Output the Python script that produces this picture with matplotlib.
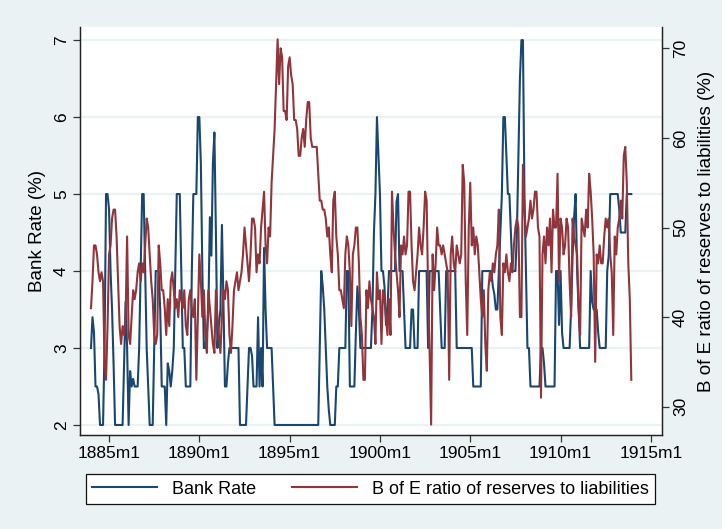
import numpy as np
import matplotlib
matplotlib.use("Agg")
import matplotlib.pyplot as plt

plt.rcParams['font.family'] = ['Liberation Sans', 'DejaVu Sans']

# monthly observations, 1884m1 .. 1913m12 (one row per year)
bank_rate = [
    3.0, 3.4, 3.2, 2.5, 2.5, 2.4, 2.0, 2.0, 2.0, 3.0, 5.0, 5.0,   # 1884
    4.8, 4.0, 3.5, 2.8, 2.0, 2.0, 2.0, 2.0, 2.0, 2.0, 2.8, 3.6,   # 1885
    3.0, 2.0, 2.7, 2.5, 2.6, 2.5, 2.5, 2.5, 3.0, 4.0, 5.0, 5.0,   # 1886
    4.0, 3.0, 2.5, 2.0, 2.0, 2.0, 3.0, 4.0, 4.0, 4.0, 3.5, 2.5,   # 1887
    2.5, 2.5, 2.0, 2.8, 2.7, 2.5, 2.7, 3.0, 4.0, 5.0, 5.0, 5.0,   # 1888
    4.0, 3.0, 3.0, 2.5, 2.5, 2.5, 2.5, 4.0, 5.0, 5.0, 5.0, 6.0,   # 1889
    6.0, 5.4, 4.0, 3.0, 3.0, 3.2, 3.5, 4.7, 4.2, 5.4, 5.8, 4.5,   # 1890
    3.0, 3.3, 3.5, 4.6, 3.6, 2.5, 2.5, 2.8, 3.0, 3.0, 3.0, 3.0,   # 1891
    3.0, 3.0, 3.0, 2.0, 2.0, 2.0, 2.0, 2.0, 2.5, 3.0, 3.0, 2.9,   # 1892
    2.5, 2.5, 2.5, 3.4, 2.5, 3.0, 2.5, 4.3, 3.5, 3.0, 3.0, 3.0,   # 1893
    3.0, 2.5, 2.0, 2.0, 2.0, 2.0, 2.0, 2.0, 2.0, 2.0, 2.0, 2.0,   # 1894
    2.0, 2.0, 2.0, 2.0, 2.0, 2.0, 2.0, 2.0, 2.0, 2.0, 2.0, 2.0,   # 1895
    2.0, 2.0, 2.0, 2.0, 2.0, 2.0, 2.0, 2.0, 3.0, 4.0, 3.8, 3.5,   # 1896
    3.0, 2.5, 2.2, 2.0, 2.0, 2.0, 2.0, 2.5, 2.5, 3.0, 3.0, 3.0,   # 1897
    3.0, 3.0, 4.0, 4.0, 2.5, 2.5, 2.5, 2.5, 3.2, 3.8, 3.5, 3.0,   # 1898
    3.0, 3.0, 3.0, 3.0, 3.0, 3.0, 3.0, 3.5, 4.5, 5.0, 6.0, 5.5,   # 1899
    5.0, 4.0, 4.0, 3.8, 3.3, 3.5, 4.0, 4.0, 4.0, 4.0, 4.0, 4.9,   # 1900
    5.0, 4.0, 4.0, 4.0, 3.5, 3.0, 3.0, 3.0, 3.0, 3.5, 3.5, 3.0,   # 1901
    3.0, 3.0, 4.0, 4.0, 4.0, 4.0, 4.0, 4.0, 3.0, 4.0, 4.0, 4.0,   # 1902
    4.0, 4.0, 4.0, 4.0, 3.5, 3.0, 3.0, 3.0, 4.0, 4.0, 4.0, 4.0,   # 1903
    4.0, 4.0, 4.0, 3.0, 3.0, 3.0, 3.0, 3.0, 3.0, 3.0, 3.0, 3.0,   # 1904
    3.0, 3.0, 2.5, 2.5, 2.5, 2.5, 2.5, 2.5, 4.0, 4.0, 4.0, 4.0,   # 1905
    4.0, 4.0, 4.0, 3.8, 3.7, 3.5, 3.5, 4.0, 4.5, 5.0, 6.0, 6.0,   # 1906
    5.5, 5.0, 5.0, 4.5, 4.0, 4.0, 4.0, 4.5, 5.5, 6.5, 7.0, 7.0,   # 1907
    5.0, 4.0, 3.0, 3.0, 2.5, 2.5, 2.5, 2.5, 2.5, 2.5, 2.5, 3.0,   # 1908
    3.0, 2.8, 2.5, 2.5, 2.5, 2.5, 2.5, 2.5, 2.5, 4.0, 4.0, 3.3,   # 1909
    4.0, 3.2, 3.0, 3.0, 3.0, 3.0, 3.0, 3.5, 4.2, 4.7, 5.0, 4.0,   # 1910
    3.5, 3.0, 3.0, 3.0, 3.0, 3.0, 3.0, 3.0, 4.0, 3.6, 3.5, 3.5,   # 1911
    3.5, 3.2, 3.0, 3.0, 3.0, 3.0, 3.0, 4.0, 4.2, 5.0, 5.0, 5.0,   # 1912
    5.0, 5.0, 5.0, 4.8, 4.5, 4.5, 4.5, 4.5, 5.0, 5.0, 5.0, 5.0,   # 1913
]

reserve_ratio = [
    41, 44, 48, 48, 47, 45, 44, 45, 44, 35, 33, 39,   # 1884
    47, 48, 51, 52, 52, 49, 44, 39, 37, 39, 38, 40,   # 1885
    49, 38, 37, 40, 43, 42, 43, 45, 46, 44, 46, 45,   # 1886
    48, 51, 50, 47, 44, 42, 38, 37, 38, 48, 46, 43,   # 1887
    43, 41, 38, 42, 39, 44, 45, 43, 41, 42, 40, 43,   # 1888
    42, 41, 43, 39, 38, 42, 43, 41, 40, 42, 33, 40,   # 1889
    47, 44, 40, 43, 38, 36, 43, 41, 39, 37, 36, 43,   # 1890
    40, 38, 36, 40, 43, 42, 44, 43, 38, 36, 39, 43,   # 1891
    44, 45, 43, 44, 45, 47, 50, 48, 46, 44, 47, 51,   # 1892
    51, 50, 45, 47, 46, 50, 52, 54, 48, 46, 50, 49,   # 1893
    55, 58, 61, 66, 71, 66, 70, 69, 63, 63, 62, 68,   # 1894
    69, 67, 66, 62, 62, 61, 58, 58, 60, 61, 59, 62,   # 1895
    64, 64, 60, 59, 59, 59, 59, 56, 53, 53, 52, 52,   # 1896
    51, 49, 50, 47, 45, 53, 54, 49, 47, 43, 43, 42,   # 1897
    41, 47, 49, 48, 45, 39, 47, 48, 50, 50, 46, 40,   # 1898
    38, 33, 33, 43, 41, 44, 42, 41, 40, 37, 45, 42,   # 1899
    43, 37, 43, 42, 40, 38, 42, 38, 54, 50, 47, 45,   # 1900
    43, 40, 48, 47, 49, 47, 48, 54, 54, 48, 44, 43,   # 1901
    45, 47, 50, 48, 47, 50, 54, 53, 43, 36, 28, 47,   # 1902
    43, 46, 50, 48, 48, 47, 48, 47, 46, 45, 33, 47,   # 1903
    49, 46, 45, 48, 47, 46, 47, 57, 55, 44, 38, 50,   # 1904
    55, 48, 50, 47, 49, 48, 45, 42, 40, 43, 37, 34,   # 1905
    43, 45, 44, 46, 45, 47, 48, 52, 40, 38, 46, 45,   # 1906
    47, 45, 44, 46, 45, 48, 50, 51, 50, 40, 40, 57,   # 1907
    52, 49, 50, 51, 53, 51, 52, 54, 54, 50, 49, 31,   # 1908
    47, 49, 46, 50, 48, 51, 45, 52, 50, 50, 56, 44,   # 1909
    51, 50, 47, 48, 51, 50, 44, 40, 51, 49, 48, 47,   # 1910
    41, 38, 51, 50, 49, 52, 50, 56, 54, 51, 47, 35,   # 1911
    47, 46, 48, 46, 46, 49, 51, 50, 51, 47, 45, 38,   # 1912
    49, 47, 50, 51, 53, 51, 58, 59, 55, 46, 42, 33,   # 1913
]

tick_years = [1885, 1890, 1895, 1900, 1905, 1910, 1915]
tick_labels = [f"{y}m1" for y in tick_years]

# months counted from 1884m1
months = np.arange(len(bank_rate))
tick_pos = [(y - 1884) * 12 for y in tick_years]

bg = '#eaf2f3'
navy = '#1a476f'
maroon = '#90353b'

fig = plt.figure(figsize=(7.22, 5.29), dpi=100, facecolor=bg)
ax = fig.add_axes([80 / 722, 1 - 435 / 529, 582 / 722, 408 / 529])
ax.set_facecolor('white')

ax.plot(months, bank_rate, color=navy, lw=1.5, label='Bank Rate')
ax.set_xlim(-7.3, 379.4)
ax.set_ylim(1.87, 7.17)
ax.set_yticks([2, 3, 4, 5, 6, 7])
ax.yaxis.grid(True, color=bg, lw=1.6)
ax.set_axisbelow(True)
ax.set_xticks(tick_pos)
ax.set_xticklabels(tick_labels)
ax.set_ylabel('Bank Rate (%)', fontsize=13.5, labelpad=6)

ax2 = ax.twinx()
ax2.plot(months, reserve_ratio, color=maroon, lw=1.5,
         label='B of E ratio of reserves to liabilities')
ax2.set_ylim(26.84, 72.38)
ax2.set_yticks([30, 40, 50, 60, 70])
ax2.set_ylabel('B of E ratio of reserves to liabilities (%)', fontsize=13.5,
               labelpad=7)

for a in (ax, ax2):
    a.spines['top'].set_visible(False)
    for s in ('left', 'right', 'bottom'):
        a.spines[s].set_color('#222222')
        a.spines[s].set_linewidth(0.9)
    a.tick_params(direction='out', length=5, width=0.9, color='#333333',
                  labelsize=12.5, pad=3)
ax.tick_params(axis='y', labelrotation=90)
ax2.tick_params(axis='y', labelrotation=90)
for lab in ax.get_yticklabels() + ax2.get_yticklabels():
    lab.set_va('center')

h1, l1 = ax.get_legend_handles_labels()
h2, l2 = ax2.get_legend_handles_labels()
leg = fig.legend(h1 + h2, l1 + l2, ncol=2, loc='lower left',
                 bbox_to_anchor=(86 / 722, 1 - 504 / 529, 569 / 722, 27 / 529),
                 mode='expand', borderaxespad=0, fontsize=13,
                 handlelength=3.6, handletextpad=0.8, fancybox=False,
                 frameon=True, edgecolor='#111111', framealpha=1,
                 borderpad=0.35)
leg.get_frame().set_linewidth(0.9)

fig.savefig('out.png', dpi=100, facecolor=bg)
